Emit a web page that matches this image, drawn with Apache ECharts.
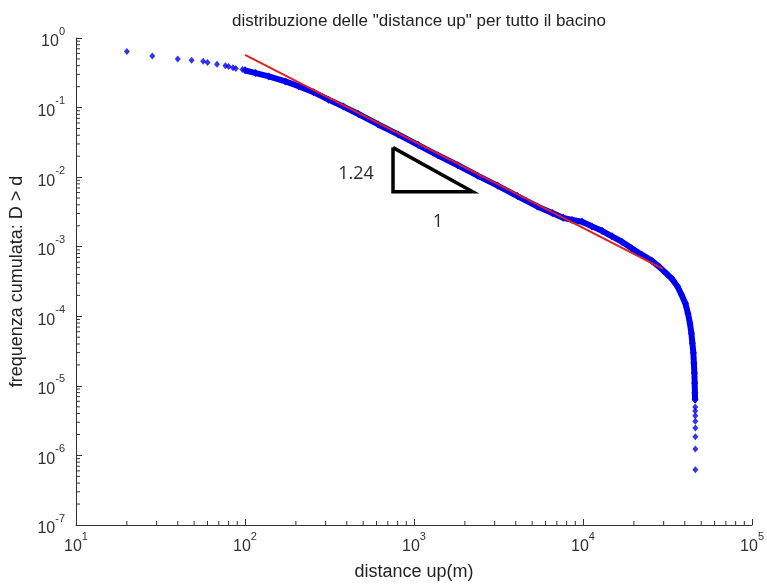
<!DOCTYPE html>
<html>
<head>
<meta charset="utf-8">
<script src="https://cdn.jsdelivr.net/npm/echarts@6/dist/echarts.min.js"></script>
<style>
  html, body { margin: 0; padding: 0; background: #fff; }
  #chart { width: 767px; height: 586px; }
</style>
</head>
<body>
<div id="chart"></div>
<script>
// sparse points at small distances
var headX = [20, 28.28, 40, 48.28, 56.57, 60, 68.28, 76.57, 80, 84.85, 88.28, 96.57];
var headY = [0.64, 0.553, 0.50, 0.48, 0.465, 0.444, 0.42, 0.40, 0.39, 0.373, 0.365, 0.352];
// dense part of the distribution
var bodyX = [100, 115.6, 138.3, 173.4, 207.8, 254.6, 311.9, 382, 468.6, 614,
  805, 1056, 1384, 1815, 2378, 3119, 4090, 5358, 6573, 7625,
  8610, 9862, 11300, 12940, 14830, 16950, 19410, 22230, 25470, 28380,
  31190, 33820, 36220, 38200, 40340, 41770, 42900, 43750, 44360, 44960,
  45270, 45580, 45780, 45900, 46030];
var bodyY = [0.343, 0.313, 0.280, 0.2376, 0.2028, 0.1665, 0.130, 0.1033, 0.0808, 0.0572,
  0.0411, 0.0291, 0.0206, 0.01483, 0.0105, 0.00756, 0.00535, 0.00379, 0.00306, 0.00260,
  0.00243, 0.00228, 0.00196, 0.00169, 0.00141, 0.00118, 0.000952, 0.000769, 0.000631, 0.000509,
  0.000411, 0.000338, 0.000268, 0.000206, 0.000153, 0.000110, 7.94e-5, 5.72e-5, 4.11e-5, 2.96e-5,
  2.13e-5, 1.53e-5, 1.10e-5, 7.94e-6, 6.31e-6];
// last isolated points
var tailX = [46100, 46100, 46150, 46150, 46200, 46200, 46200, 46200];
var tailY = [4.96e-6, 4.34e-6, 3.72e-6, 3.1e-6, 2.48e-6, 1.86e-6, 1.24e-6, 6.2e-7];
// power-law fit (slope -1.24)
var fitX = [100, 29570];
var fitY = [0.572, 4.85e-4];
// slope triangle
var triX = [751, 751, 2223, 751];
var triY = [0.02657, 0.00617, 0.00617, 0.02657];

// log axis tick values
var decadesX = [10, 100, 1000, 10000];
var decadesY = [1e-7, 1e-6, 1e-5, 1e-4, 1e-3, 1e-2, 1e-1];
var minorSteps = [2, 3, 4, 5, 6, 7, 8, 9];

var ink = '#333';
var font = 'Liberation Sans';
var blue = '#0000f0';

function pairs(xs, ys) {
  return xs.map(function(x, i) { return [x, ys[i]]; });
}
function minorOf(decades) {
  var out = [];
  decades.forEach(function(d) {
    minorSteps.forEach(function(m) { out.push(d * m); });
  });
  return out;
}
var xMinor = minorOf(decadesX).map(function(v) { return [v, 1e-7]; });
var yMinor = minorOf(decadesY).map(function(v) { return [10, v]; });

function powLabel(v) {
  var e = Math.round(Math.log(v) / Math.LN10);
  return '{b|10}{e|' + e + '}';
}
var labelRich = {
  b: { fontSize: 16, fontFamily: font, color: ink, lineHeight: 24, verticalAlign: 'bottom' },
  e: { fontSize: 11, fontFamily: font, color: ink, lineHeight: 12, verticalAlign: 'top' }
};

var chart = echarts.init(document.getElementById('chart'), null, { renderer: 'canvas' });

chart.setOption({
  backgroundColor: '#fff',
  animation: false,
  title: {
    text: 'distribuzione delle "distance up" per tutto il bacino',
    left: 414,
    top: 8,
    textAlign: 'center',
    textStyle: { fontSize: 17, fontWeight: 'normal', color: '#222', fontFamily: font }
  },
  grid: { left: 76, right: 11, top: 38, bottom: 58 },
  xAxis: {
    type: 'log',
    logBase: 10,
    min: 10,
    max: 100000,
    interval: 1,
    name: 'distance up(m)',
    nameLocation: 'middle',
    nameGap: 38,
    nameTextStyle: { fontSize: 18, color: '#222', fontFamily: font },
    axisLine: { lineStyle: { color: ink, width: 1 } },
    axisTick: { inside: true, length: 6, lineStyle: { color: ink } },
    axisLabel: { margin: 6, formatter: powLabel, rich: labelRich },
    splitLine: { show: false }
  },
  yAxis: {
    type: 'log',
    logBase: 10,
    min: 1e-7,
    max: 1,
    interval: 1,
    name: 'frequenza cumulata: D > d',
    nameLocation: 'middle',
    nameGap: 49,
    nameTextStyle: { fontSize: 18, color: '#222', fontFamily: font },
    axisLine: { lineStyle: { color: ink, width: 1 } },
    axisTick: { inside: true, length: 6, lineStyle: { color: ink } },
    axisLabel: { margin: 11, formatter: powLabel, rich: labelRich },
    splitLine: { show: false }
  },
  series: [
    {
      type: 'custom',
      silent: true,
      data: xMinor,
      renderItem: function(params, api) {
        var p = api.coord([api.value(0), api.value(1)]);
        return { type: 'line', shape: { x1: p[0], y1: p[1], x2: p[0], y2: p[1] - 4 }, style: { stroke: ink, lineWidth: 1 } };
      }
    },
    {
      type: 'custom',
      silent: true,
      data: yMinor,
      renderItem: function(params, api) {
        var p = api.coord([api.value(0), api.value(1)]);
        return { type: 'line', shape: { x1: p[0], y1: p[1], x2: p[0] + 4, y2: p[1] }, style: { stroke: ink, lineWidth: 1 } };
      }
    },
    {
      type: 'scatter',
      data: pairs(headX, headY),
      symbol: 'diamond',
      symbolSize: [6, 7],
      itemStyle: { color: blue }
    },
    {
      type: 'line',
      data: pairs(bodyX, bodyY),
      symbol: 'diamond',
      symbolSize: [7, 8],
      showSymbol: true,
      itemStyle: { color: blue },
      lineStyle: { color: blue, width: 6 }
    },
    {
      type: 'scatter',
      data: pairs(tailX, tailY),
      symbol: 'diamond',
      symbolSize: [6, 7],
      itemStyle: { color: blue }
    },
    {
      type: 'line',
      data: pairs(fitX, fitY),
      symbol: 'none',
      lineStyle: { color: '#e0201e', width: 2 },
      z: 5
    },
    {
      type: 'line',
      data: pairs(triX, triY),
      symbol: 'none',
      lineStyle: { color: '#000', width: 3.5, join: 'miter' },
      z: 5
    }
  ],
  graphic: [
    { type: 'text', x: 356, y: 174, style: { text: '1.24', fontSize: 18, fontFamily: 'Open Sans', fill: '#2b2b2b', align: 'center', verticalAlign: 'middle' } },
    { type: 'text', x: 438, y: 222, style: { text: '1', fontSize: 18, fontFamily: 'Open Sans', fill: '#2b2b2b', align: 'center', verticalAlign: 'middle' } }
  ]
});

window.addEventListener('resize', function() { chart.resize(); });
</script>
</body>
</html>
